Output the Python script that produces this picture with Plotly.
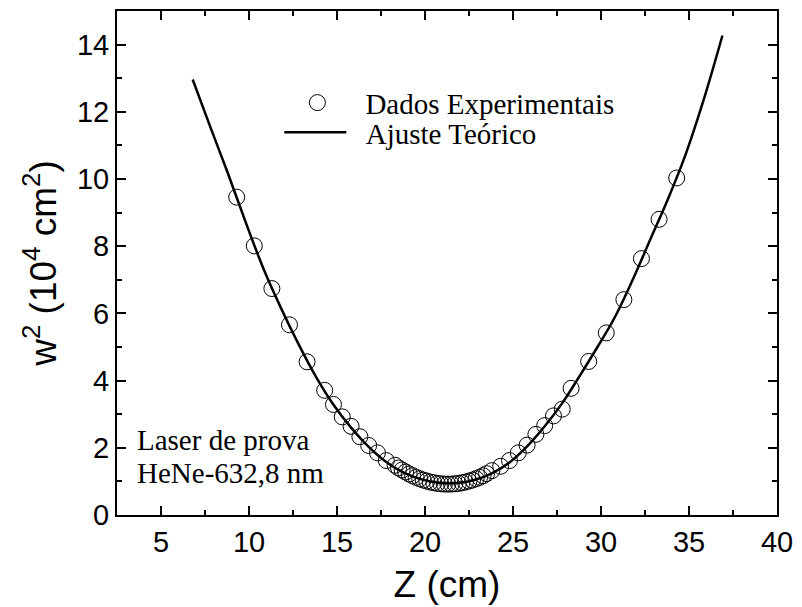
import plotly.graph_objects as go

z_data = [9.3, 10.3, 11.3, 12.3, 13.3, 14.3, 14.8, 15.3, 15.8, 16.3, 16.8, 17.3, 17.8, 18.3,
          18.5, 18.7, 18.9, 19.1, 19.3, 19.5, 19.7, 19.9, 20.1, 20.3, 20.5, 20.7, 20.9, 21.1,
          21.3, 21.5, 21.7, 21.9, 22.1, 22.3, 22.5, 22.7, 22.9, 23.1, 23.3, 23.5,
          23.8, 24.3, 24.8, 25.3, 25.8, 26.3, 26.8, 27.3, 27.8, 28.3, 29.3, 30.3, 31.3,
          32.3, 33.3, 34.3]
w2_data = [9.46, 8.01, 6.74, 5.66, 4.56, 3.71, 3.29, 2.92, 2.64, 2.33, 2.07, 1.85, 1.62, 1.48,
           1.40, 1.34, 1.28, 1.22, 1.17, 1.12, 1.08, 1.04, 1.01, 0.98, 0.96, 0.94, 0.93, 0.92,
           0.92, 0.92, 0.93, 0.94, 0.96, 0.98, 1.01, 1.04, 1.08, 1.12, 1.17, 1.23,
           1.32, 1.45, 1.62, 1.85, 2.08, 2.40, 2.66, 2.95, 3.15, 3.77, 4.57, 5.42, 6.41,
           7.63, 8.80, 10.03]

# Theoretical fit curve
z_fit = [6.8, 7.8, 8.8, 9.8, 10.8, 11.8, 12.8, 13.8, 14.8, 15.8, 16.8, 17.8, 18.8, 19.8,
         20.8, 21.8, 22.8, 23.8, 24.8, 25.8, 26.8, 27.8, 28.8, 29.8, 30.8, 31.8, 32.8,
         33.8, 34.8, 35.8, 36.9]
w2_fit = [12.96, 11.55, 10.17, 8.73, 7.36, 6.18, 5.10, 4.12, 3.28, 2.60, 2.03, 1.58, 1.26,
          1.06, 0.96, 0.95, 1.04, 1.24, 1.56, 2.04, 2.64, 3.33, 4.15, 5.00, 5.90, 7.00,
          8.20, 9.40, 10.72, 12.30, 14.27]

x_ticks = [5, 10, 15, 20, 25, 30, 35, 40]
y_ticks = [0, 2, 4, 6, 8, 10, 12, 14]

serif = "Times New Roman, Liberation Serif, serif"
sans = "Arial, Liberation Sans, sans-serif"

fig = go.Figure()
fig.add_trace(go.Scatter(
    x=z_data, y=w2_data, mode="markers", name="Dados Experimentais", legend="legend",
    marker=dict(symbol="circle-open", size=16, color="black", line=dict(width=1, color="black")),
))
fig.add_trace(go.Scatter(
    x=z_fit, y=w2_fit, mode="lines", name="\u00a0\u00a0Ajuste Teórico", legend="legend2",
    line=dict(color="black", width=2.5, shape="spline"),
))

axis_common = dict(
    showline=True, linewidth=2, linecolor="black", mirror="allticks",
    ticks="inside", ticklen=9, tickwidth=2, tickcolor="black",
    showgrid=False, zeroline=False,
    tickfont=dict(family=sans, size=29, color="black"),
)

fig.update_xaxes(
    range=[2.5, 40], tickvals=x_ticks, ticktext=[str(v) for v in x_ticks],
    minor=dict(dtick=2.5, tick0=0, ticks="inside", ticklen=5, tickwidth=2, tickcolor="black"),
    title=dict(text="Z (cm)", font=dict(family=sans, size=37, color="black"), standoff=14),
    **axis_common,
)
fig.update_yaxes(
    range=[0, 15], tickvals=y_ticks, ticktext=[str(v) for v in y_ticks],
    minor=dict(dtick=1, tick0=0, ticks="inside", ticklen=5, tickwidth=2, tickcolor="black"),
    title=dict(text="w<sup>2</sup> (10<sup>4</sup> cm<sup>2</sup>)",
               font=dict(family=sans, size=37, color="black"), standoff=9),
    **axis_common,
)

fig.add_annotation(x=0.028, y=0.149, xref="paper", yref="paper", xanchor="left", yanchor="middle",
                   text="Laser de prova", showarrow=False,
                   font=dict(family=serif, size=29, color="black"))
fig.add_annotation(x=0.028, y=0.0826, xref="paper", yref="paper", xanchor="left", yanchor="middle",
                   text="HeNe-632,8 nm", showarrow=False,
                   font=dict(family=serif, size=29, color="black"))

legend_font = dict(family=serif, size=29, color="black")
fig.update_layout(
    width=802, height=607,
    margin=dict(l=117, r=18, t=9, b=90),
    paper_bgcolor="white", plot_bgcolor="white",
    showlegend=True,
    legend=dict(x=(271 - 117) / 667, y=0.818, xanchor="left", yanchor="middle",
                font=legend_font, bgcolor="rgba(0,0,0,0)", itemwidth=86),
    legend2=dict(x=(281 - 117) / 667, y=0.759, xanchor="left", yanchor="middle",
                 font=legend_font, bgcolor="rgba(0,0,0,0)", itemwidth=62),
)

fig.write_html("out.html")
